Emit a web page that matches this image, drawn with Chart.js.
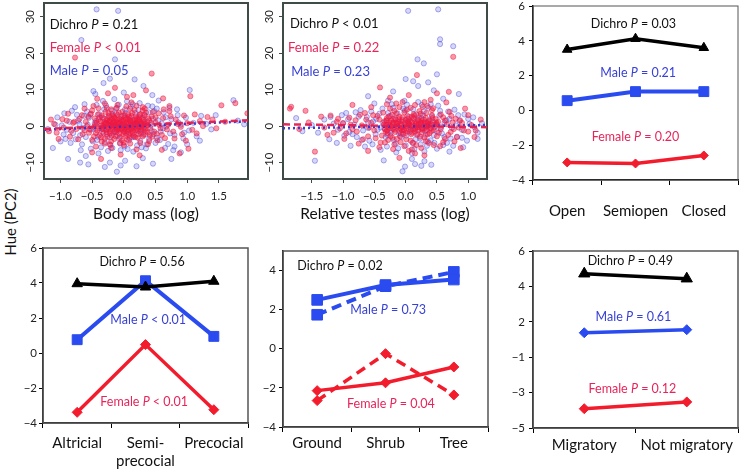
<!DOCTYPE html>
<html><head><meta charset="utf-8">
<script src="https://cdn.jsdelivr.net/npm/chart.js@4.4.1/dist/chart.umd.min.js"></script>
<style>
html,body{margin:0;padding:0;background:#fff;width:740px;height:472px;overflow:hidden;position:relative}
canvas{position:absolute}
#ylab{position:absolute;left:10px;top:222px;transform:translate(-50%,-50%) rotate(-90deg);font:15px Lato;white-space:nowrap;color:#111}
</style></head><body>
<div id="ylab">Hue (PC2)</div>
<canvas id="c1"></canvas><canvas id="c2"></canvas><canvas id="c3"></canvas>
<canvas id="c4"></canvas><canvas id="c5"></canvas><canvas id="c6"></canvas>
<script>
// ---------- scatter data ----------
const bodyMassTicks = [-1.0,-0.5,0.0,0.5,1.0,1.5];
const testesTicks = [-1.5,-1.0,-0.5,0.0,0.5,1.0];
const hueTicks = [-10,0,10,20,30];

const bodyFemale = [[-0.45,0.5],[-0.42,-1.2],[-0.4,1.8],[-0.38,-2.5],[-0.36,0.2],[-0.35,2.9],[-0.33,-0.8],[-0.31,1.1],[-0.3,-3.4],[-0.29,0.6],[-0.27,-1.7],[-0.26,2.2],[-0.25,-0.3],[-0.24,3.6],[-0.23,1.4],[-0.22,-2.1],[-0.21,0.1],[-0.2,-4.2],[-0.19,1.9],[-0.18,-0.9],[-0.17,0.8],[-0.16,2.7],[-0.15,-1.5],[-0.14,0.3],[-0.13,-2.8],[-0.12,1.2],[-0.11,-0.4],[-0.1,3.1],[-0.09,0.9],[-0.08,-1.1],[-0.07,2.0],[-0.06,-3.0],[-0.05,0.0],[-0.04,1.6],[-0.03,-0.6],[-0.02,4.0],[-0.01,-2.2],[0.0,0.7],[0.01,-1.4],[0.02,2.4],[0.03,-0.2],[0.04,1.0],[0.05,-3.6],[0.06,0.4],[0.07,3.3],[0.08,-0.9],[0.09,1.7],[0.1,-1.9],[0.11,0.2],[0.12,2.8],[0.13,-0.5],[0.14,1.3],[0.15,-2.6],[0.16,0.6],[0.17,4.4],[0.18,-1.2],[0.19,0.9],[0.2,2.1],[0.21,-0.7],[0.22,-3.2],[0.23,1.5],[0.24,0.0],[0.25,3.0],[0.26,-1.6],[0.27,0.8],[0.28,-0.3],[0.3,2.3],[0.31,-2.4],[0.32,1.1],[0.34,-0.8],[0.35,3.7],[0.36,0.4],[0.38,-1.8],[0.4,1.6],[0.42,-0.5],[0.44,2.6],[0.45,-2.9],
[-0.28,0.9],[-0.22,1.6],[-0.18,-0.2],[-0.12,0.5],[-0.08,-0.6],[-0.03,1.3],[0.02,-0.9],[0.06,1.9],[0.1,0.3],[0.14,-1.3],[0.19,0.5],[0.24,1.8],[0.29,0.1],[-0.34,-0.5],[-0.15,2.4],[0.08,-2.4],[0.33,0.7],
[-0.47,-0.2],[-0.46,2.1],[-0.44,-1.9],[-0.43,0.9],[-0.41,3.2],[-0.39,-0.6],[-0.37,1.4],[-0.36,-3.1],[-0.34,2.4],[-0.33,0.0],[-0.32,-1.9],[-0.3,0.8],[-0.29,3.9],[-0.28,-1.0],[-0.27,1.6],[-0.26,-2.9],[-0.25,0.5],[-0.24,-0.7],[-0.23,2.8],[-0.22,-1.5],[-0.21,1.1],[-0.2,0.2],[-0.19,-2.6],[-0.18,3.3],[-0.17,-0.1],[-0.16,1.3],[-0.15,-3.5],[-0.14,2.1],[-0.13,0.6],[-0.12,-1.7],[-0.11,1.8],[-0.1,-0.9],[-0.09,0.1],[-0.08,3.7],[-0.07,-2.0],[-0.06,1.0],[-0.05,-0.7],[-0.04,2.6],[-0.03,-3.9],[-0.02,0.4],[-0.01,1.5],[0.0,-1.6],[0.01,3.0],[0.02,0.1],[0.03,-2.7],[0.04,1.9],[0.05,-0.3],[0.06,-1.2],[0.07,0.8],[0.08,2.5],[0.09,-3.3],[0.1,1.4],[0.11,-0.8],[0.12,0.0],[0.13,3.6],[0.14,-2.1],[0.15,0.9],[0.16,-0.4],[0.17,1.7],[0.18,-3.0],[0.19,2.7],[0.2,-1.0],[0.21,0.6],[0.22,1.9],[0.23,-2.2],[0.24,-0.2],[0.25,1.2],[0.26,3.3],[0.27,-1.1],[0.28,0.4],[0.3,-2.8],[0.31,1.6],[0.32,-0.6],[0.33,2.9],[0.35,-1.4],[0.37,0.2],[0.39,2.1],[0.41,-2.5],[0.43,0.9],[-0.2,4.6],[0.0,-4.5],[0.1,4.8],[-0.3,-4.8],[0.3,4.3],
[-0.56,2.6],[-0.54,-0.9],[-0.5,4.3],[-0.47,-2.8],[-0.4,4.9],[-0.35,-4.2],[-0.27,5.0],[-0.22,-5.0],[-0.12,4.9],[-0.06,-4.6],[0.04,5.4],[0.1,-4.8],[0.2,5.6],[0.26,-4.6],[0.33,4.8],[0.4,-4.1],[0.46,3.9],[0.48,-1.5],[0.5,2.4],[0.53,-3.9],[0.56,0.3],[0.6,-2.4],[0.63,4.6],[0.68,-0.9],[0.74,2.7],[0.8,-3.4],[0.85,0.6],[0.92,-2.2],[-0.62,-1.2],[-0.66,3.0],[-0.72,-3.6],[-0.78,1.2],[-0.83,-1.3],[-0.88,3.4],[-0.97,1.9],[-1.06,-1.8],[-1.15,1.8],[0.98,-4.0],[1.15,-2.0],[1.4,1.8],
[-0.6,1.2],[-0.55,-1.8],[-0.52,3.4],[-0.5,-3.8],[-0.58,0.0],[-0.65,-2.2],[-0.7,2.0],[-0.75,-0.8],[-0.8,0.9],[-0.85,-2.9],[-0.9,1.5],[-0.95,-0.4],[-1.03,-3.5],[-1.1,0.6],[-1.18,-1.4],[-0.62,4.8],[-0.48,5.5],[-0.44,-5.6],[-0.3,6.2],[-0.2,-6.0],[-0.1,5.8],[0.0,-5.2],[0.12,6.5],[0.2,-6.4],[0.3,5.2],[0.38,-5.0],[0.5,1.0],[0.52,-2.1],[0.55,3.5],[0.58,-0.6],[0.62,2.2],[0.65,-3.3],[0.7,0.4],[0.72,4.1],[0.78,-1.5],[0.82,1.8],[0.88,-7.5],[0.9,-0.2],[0.95,2.9],[1.0,0.8],[1.02,-6.2],[1.05,8.2],[1.08,-1.0],[1.12,3.2],[1.2,1.4],[1.25,0.0],[1.32,2.5],[1.46,-0.6],[1.54,5.7],[1.76,6.3],[1.95,3.5],[1.6,1.2],
[-0.77,18.8],[0.44,14.4],[0.15,8.5],[-0.14,10.5],[-0.36,-9.0],[-0.5,-7.2],[0.25,-8.0],[0.6,-6.5],[-0.25,9.0],[0.05,8.0],[0.35,9.8],[-0.42,7.5],[0.62,7.6],[-0.05,-7.8],[0.72,5.5]];

const bodyMale = [[-0.48,-0.7],[-0.44,1.4],[-0.41,-2.9],[-0.39,3.3],[-0.37,0.0],[-0.34,-1.6],[-0.32,2.1],[-0.3,-4.4],[-0.28,0.8],[-0.26,-0.9],[-0.24,2.6],[-0.22,-3.1],[-0.2,0.4],[-0.19,4.2],[-0.17,-1.8],[-0.15,1.0],[-0.13,-0.2],[-0.12,3.4],[-0.1,-2.6],[-0.08,0.6],[-0.06,-4.8],[-0.05,1.8],[-0.03,-1.0],[-0.01,2.9],[0.0,-0.4],[0.02,4.6],[0.04,-2.0],[0.06,0.9],[0.08,-3.9],[0.1,2.2],[0.12,-0.6],[0.14,1.5],[0.16,-2.9],[0.18,3.6],[0.2,0.1],[0.22,-1.4],[0.24,2.4],[0.26,-4.1],[0.28,0.7],[0.3,-0.9],[0.32,3.1],[0.34,-2.3],[0.37,1.2],[0.4,-3.5],[0.43,0.3],[0.46,2.0],
[-0.46,0.8],[-0.42,-3.8],[-0.38,2.4],[-0.35,-0.8],[-0.31,4.6],[-0.27,-2.2],[-0.23,1.2],[-0.21,-5.2],[-0.18,2.9],[-0.14,-1.3],[-0.11,5.0],[-0.07,-3.4],[-0.04,0.3],[0.01,-5.6],[0.03,3.6],[0.07,-1.6],[0.11,5.3],[0.13,-3.1],[0.17,0.6],[0.21,-5.3],[0.23,4.4],[0.27,-2.0],[0.31,1.8],[0.36,-5.0],[0.39,3.8],[0.44,-1.3],[0.48,4.1],[0.52,-3.2],[0.6,0.7],[0.65,-6.0],[-0.52,-1.0],[-0.58,4.0],[-0.64,-0.5],[-0.68,-6.6],[-0.72,1.5],[-0.76,-3.6],[-0.82,4.2],[-0.9,-1.0],[-0.94,3.5],[-1.0,-4.2],[0.72,5.0],[0.8,-5.6],[0.86,1.0],[0.95,-1.8],
[-0.57,0.4],[-0.53,3.2],[-0.49,-4.2],[-0.43,5.8],[-0.36,-5.8],[-0.28,5.6],[-0.18,-6.0],[-0.08,5.9],[0.06,-6.3],[0.14,6.0],[0.28,-5.8],[0.38,5.6],[0.47,-2.2],[0.52,4.8],[0.57,-3.8],[0.62,-0.6],[0.66,2.4],[0.73,-2.0],[0.78,-6.6],[0.84,4.6],[-0.63,2.8],[-0.69,-2.5],[-0.77,5.2],[-0.84,-4.6],[-0.95,-2.3],[-1.08,0.4],[1.0,-5.0],[1.2,-4.0],
[-0.55,2.3],[-0.6,-3.0],[-0.66,-5.0],[-0.7,0.6],[-0.74,3.1],[-0.8,-1.9],[-0.86,1.2],[-0.88,-9.0],[-0.92,-3.5],[-0.98,0.2],[-1.05,2.4],[-1.12,-6.0],[-1.2,-0.8],[-0.62,6.0],[-0.52,-6.2],[-0.45,8.8],[-0.4,-7.5],[-0.33,6.9],[-0.25,-6.8],[-0.15,7.4],[-0.05,-6.6],[0.05,6.8],[0.15,-7.0],[0.25,6.3],[0.35,-6.1],[0.45,5.4],[0.5,-4.6],[0.54,1.6],[0.58,-1.5],[0.63,3.8],[0.67,-0.1],[0.7,-4.9],[0.75,1.9],[0.75,-9.0],[0.8,-2.4],[0.85,3.0],[0.9,0.4],[0.94,-3.4],[0.98,2.3],[1.04,9.9],[1.03,-1.2],[1.1,0.9],[1.15,-2.8],[1.22,2.8],[1.3,0.6],[1.38,-0.9],[1.45,3.0],[1.73,7.1],[1.8,1.5],[1.9,0.5],
[-0.43,32.0],[-0.09,31.6],[-0.67,23.6],[-0.14,18.3],[-0.22,13.0],[0.17,12.8],[0.31,11.0],[-0.11,-12.5],[-0.22,-10.0],[0.2,-11.0],[-0.56,-10.5],[-0.69,-10.0],[0.46,-10.3],[-0.3,-11.2],[0.02,-9.5],[-0.48,9.6],[0.0,9.2],[-0.32,11.8],[0.55,7.0],[-0.6,-8.2],[0.3,-8.8],[0.9,-7.2],[-0.05,-10.8],[0.45,8.5]];

const testesFemale = [[-0.35,0.4],[-0.32,-1.5],[-0.3,2.2],[-0.28,-0.3],[-0.26,1.0],[-0.24,-2.7],[-0.22,3.1],[-0.2,0.6],[-0.18,-1.0],[-0.16,1.8],[-0.14,-3.5],[-0.12,0.0],[-0.1,2.6],[-0.08,-0.7],[-0.06,1.3],[-0.04,-2.2],[-0.02,3.8],[0.0,0.3],[0.02,-1.3],[0.04,2.0],[0.06,-0.2],[0.08,-4.0],[0.1,1.1],[0.12,-0.9],[0.14,2.9],[0.16,0.5],[0.18,-2.4],[0.2,1.6],[0.22,-0.4],[0.24,3.4],[0.26,-1.7],[0.28,0.8],[0.3,-3.1],[0.32,2.3],[0.34,-0.1],[0.36,1.2],[0.38,-2.0],[0.4,0.6],[0.42,3.0],[0.45,-1.1],[0.48,1.9],[0.5,-2.8],
[-0.25,0.2],[-0.15,0.9],[-0.05,-0.4],[0.05,0.7],[0.15,-0.6],[0.25,1.4],[0.35,0.1],[-0.2,-0.8],[0.0,1.7],[0.1,-1.8],[0.2,0.2],[0.3,1.0],[-0.1,-1.4],[0.12,2.2],[-0.3,1.6],[0.45,0.4],
[-0.34,1.3],[-0.33,-0.9],[-0.31,0.4],[-0.29,-2.0],[-0.27,2.6],[-0.25,-0.6],[-0.23,1.5],[-0.21,-3.2],[-0.19,0.9],[-0.17,-1.6],[-0.15,3.5],[-0.13,-0.1],[-0.11,1.9],[-0.09,-2.8],[-0.07,0.5],[-0.05,2.4],[-0.03,-1.1],[-0.01,1.0],[0.01,-3.6],[0.03,2.8],[0.05,-0.8],[0.07,1.4],[0.09,-2.2],[0.11,0.2],[0.13,3.3],[0.15,-1.5],[0.17,0.8],[0.19,-0.3],[0.21,2.5],[0.23,-2.9],[0.25,0.6],[0.27,-1.0],[0.29,1.8],[0.31,-0.5],[0.33,3.6],[0.35,-2.3],[0.37,0.3],[0.39,1.5],[0.41,-1.3],[0.43,2.2],[0.46,-0.2],[0.49,1.0],[-0.28,-3.8],[-0.18,4.2],[-0.08,-4.4],[0.02,4.5],[0.12,-4.6],[0.22,4.1],[0.32,-4.1],[0.42,4.4],[-0.24,0.0],[-0.14,0.7],[-0.04,-0.2],[0.06,0.4],[0.16,1.2],[0.26,-0.7],[0.36,0.8],[-0.2,2.0],[0.0,-1.9],[0.2,-1.2],[0.1,2.6],[-0.1,1.2],[0.3,0.2],[0.4,-0.6],[-0.3,-1.2],[0.14,0.0],[0.04,1.1],[-0.06,-1.2],[0.24,1.0],[0.34,-1.0],
[-0.42,1.8],[-0.38,-2.6],[-0.36,3.7],[-0.33,-4.5],[-0.25,4.8],[-0.18,-5.0],[-0.1,5.2],[-0.02,-5.5],[0.08,5.0],[0.17,-5.2],[0.27,5.3],[0.37,-4.6],[0.44,4.9],[0.5,0.5],[0.53,-1.8],[0.56,3.2],[0.6,-4.4],[0.63,1.5],[0.68,-2.4],[0.73,2.8],[0.77,-0.8],[0.82,-3.0],[0.87,1.6],[0.93,-1.2],[-0.48,-3.3],[-0.52,3.0],[-0.58,-0.4],[-0.63,1.8],[-0.68,-3.6],[-0.73,3.1],[-0.78,-1.5],[-0.88,0.4],[-0.98,-3.5],[-1.08,2.0],[-1.15,-1.8],[1.0,3.0],[1.12,-1.2],[0.3,6.6],[-0.15,6.2],[0.1,-6.4],
[-0.4,-4.5],[-0.45,2.8],[-0.5,-1.2],[-0.55,0.9],[-0.6,-2.8],[-0.65,3.6],[-0.7,0.2],[-0.75,-4.8],[-0.8,1.6],[-0.85,-0.9],[-0.9,2.3],[-0.95,-2.0],[-1.0,0.8],[-1.05,-0.6],[-1.1,1.2],[-1.2,2.9],[-1.3,-0.4],[-1.35,2.6],[-1.45,-7.0],[-1.6,4.2],[-1.85,4.8],[-1.7,-0.8],[-1.55,1.0],[-1.25,-2.4],[-0.55,5.2],[-0.42,-5.8],[-0.3,6.0],[-0.2,-6.3],[-0.05,6.6],[0.05,-6.8],[0.15,5.8],[0.25,-6.0],[0.35,5.5],[0.45,-5.2],[0.52,1.2],[0.56,-0.8],[0.6,2.4],[0.63,-3.5],[0.66,0.5],[0.7,3.9],[0.72,-1.6],[0.75,1.0],[0.78,-4.2],[0.8,2.0],[0.85,-0.4],[0.88,-6.0],[0.9,0.9],[0.95,4.8],[1.0,-1.5],[1.05,0.3],[1.1,-3.0],[1.2,1.8],[0.65,6.5],[0.55,-5.5],
[0.76,19.0],[0.18,14.0],[0.69,9.4],[-0.41,10.6],[-1.83,5.3],[0.5,9.0],[-0.1,-8.7],[0.3,-8.0],[-0.6,-6.8],[0.05,8.5],[-0.25,7.8],[0.4,7.2],[-0.85,5.8],[0.15,-7.5]];

const testesMale = [[-0.34,-0.6],[-0.31,1.5],[-0.29,-2.4],[-0.27,0.3],[-0.25,2.8],[-0.23,-1.1],[-0.21,0.9],[-0.19,-3.8],[-0.17,2.0],[-0.15,-0.4],[-0.13,3.5],[-0.11,-1.9],[-0.09,0.5],[-0.07,-3.0],[-0.05,1.7],[-0.03,-0.9],[-0.01,4.3],[0.01,-2.6],[0.03,0.8],[0.05,2.5],[0.07,-1.5],[0.09,0.0],[0.11,-4.6],[0.13,1.9],[0.15,-0.8],[0.17,3.2],[0.19,-2.1],[0.21,0.6],[0.23,-3.4],[0.25,2.1],[0.27,-0.5],[0.29,4.0],[0.31,-1.3],[0.33,0.9],[0.35,-4.2],[0.37,1.6],[0.39,-0.6],[0.42,2.7],[0.45,-2.5],[0.48,0.4],
[-0.36,0.9],[-0.32,-3.0],[-0.28,3.6],[-0.24,-1.8],[-0.2,5.0],[-0.16,-4.8],[-0.12,1.1],[-0.08,-2.0],[-0.04,4.8],[0.0,-5.3],[0.04,1.3],[0.08,-1.0],[0.12,4.6],[0.16,-3.6],[0.2,1.8],[0.24,-5.0],[0.28,2.9],[0.32,-2.4],[0.36,5.0],[0.4,-3.9],[0.44,1.2],[0.5,-1.4],[0.55,4.2],[0.6,-5.2],[0.65,1.6],[-0.45,-1.0],[-0.55,4.0],[-0.6,-0.5],[-0.65,-5.6],[-0.75,2.6],[-0.85,-2.2],[-0.95,3.6],[-1.1,-4.6],[0.72,-3.4],[0.8,0.2],[0.92,-5.8],[1.0,2.0],[1.1,-0.3],
[-0.4,-0.4],[-0.37,4.8],[-0.3,-5.6],[-0.22,6.0],[-0.12,-6.1],[0.02,5.9],[0.14,-6.2],[0.26,5.8],[0.34,-5.4],[0.46,-4.6],[0.52,5.6],[0.57,-0.2],[0.62,-3.0],[0.68,4.0],[0.76,-5.4],[0.84,3.0],[0.9,-3.2],[-0.47,2.0],[-0.53,-5.0],[-0.6,1.0],[-0.7,-3.8],[-0.8,3.8],[-0.9,-1.6],[-1.0,0.8],[-1.2,2.5],[1.15,-3.5],
[-0.42,3.4],[-0.48,-2.2],[-0.52,1.3],[-0.58,-4.0],[-0.62,2.5],[-0.68,-1.2],[-0.72,4.4],[-0.78,-3.0],[-0.82,0.4],[-0.88,-5.4],[-0.92,1.9],[-0.98,-2.6],[-1.02,3.0],[-1.08,-1.0],[-1.15,0.7],[-1.22,-3.6],[-1.3,1.8],[-1.4,-1.8],[-1.45,-9.5],[-1.5,0.3],[-1.65,-1.4],[-1.75,2.2],[-0.5,6.2],[-0.4,-6.5],[-0.28,7.0],[-0.15,-7.2],[-0.02,6.9],[0.1,-7.4],[0.2,6.6],[0.3,-6.9],[0.4,6.0],[0.5,-6.2],[0.54,2.9],[0.58,-2.0],[0.62,0.9],[0.66,-4.6],[0.7,2.0],[0.74,-0.5],[0.78,4.5],[0.82,-2.9],[0.86,1.4],[0.9,-1.0],[0.94,3.2],[0.98,-4.0],[1.02,0.6],[1.08,2.4],[1.15,-1.8],[1.22,0.8],[0.6,7.5],[0.7,-7.0],
[0.04,31.6],[0.52,32.0],[0.55,23.8],[0.55,22.5],[0.76,21.9],[0.19,18.3],[0.29,17.2],[0.5,14.2],[0.0,12.9],[0.12,12.3],[0.36,12.0],[0.2,11.0],[-0.01,-11.1],[-0.05,-12.4],[0.15,-10.4],[0.25,-10.9],[0.41,-10.6],[-0.35,-9.4],[0.1,-9.0],[-0.2,9.5],[0.45,9.8],[-0.6,8.2],[0.85,8.8],[0.3,-9.6]];

// fitted regression lines (end points)
const bodyFemaleFit = [[-1.26,-0.8],[1.96,1.6]];
const bodyMaleFit = [[-1.26,-1.0],[1.96,1.3]];
const testesFemaleFit = [[-1.96,0.5],[1.30,-0.3]];
const testesMaleFit = [[-1.96,-0.6],[1.30,0.3]];

// ---------- category panels ----------
const openness = ['Open','Semiopen','Closed'];
const opennessDichro = [3.5, 4.12, 3.6];
const opennessMale = [0.56, 1.08, 1.08];
const opennessFemale = [-2.99, -3.05, -2.59];

const development = ['Altricial', ['Semi-','precocial'], 'Precocial'];
const developmentDichro = [3.96, 3.77, 4.1];
const developmentMale = [0.76, 4.13, 0.95];
const developmentFemale = [-3.39, 0.48, -3.24];

const foraging = ['Ground','Shrub','Tree'];
const foragingMaleSolid = [2.5, 3.26, 3.54];
const foragingMaleDashed = [1.74, 3.2, 3.93];
const foragingFemaleSolid = [-2.14, -1.74, -0.93];
const foragingFemaleDashed = [-2.65, -0.25, -2.36];

const migration = ['Migratory','Not migratory'];
const migrationDichro = [4.59, 4.28];
const migrationMale = [0.92, 1.11];
const migrationFemale = [-3.8, -3.38];

const evenTicks = [-4,-2,0,2,4,6];
const foragingTicks = [-4,-2,0,2,4];
const migrationTickValues = [-5,-2.8,-0.6,1.6,3.8,6];
const migrationTickLabels = ['−5','−3','−1','2','4','6'];

// ---------- styling ----------
Chart.defaults.font.family = 'Lato';
Chart.defaults.animation = false;
const RED = '#f21c2c', BLUE = '#2a4bef', BLACK = '#000';
const RED_T = '#e8255a', BLUE_T = '#3841d6';
const FRAME = '#3f4b49';
const minus = v => (v < 0 ? '−' : '') + Math.abs(v);
const fmt1 = v => (v < 0 ? '−' : '') + Math.abs(v).toFixed(1);
const pts = arr => arr.map(p => ({x: p[0], y: p[1]}));

const framePlugin = {
  id: 'frame',
  beforeDatasetsDraw(chart, args, o) {
    const a = chart.chartArea, ctx = chart.ctx;
    ctx.save(); ctx.strokeStyle = o.color; ctx.lineWidth = o.width;
    ctx.strokeRect(a.left, a.top, a.right - a.left, a.bottom - a.top);
    ctx.restore();
  }
};
const notePlugin = {
  id: 'notes',
  afterDatasetsDraw(chart, args, o) {
    const ctx = chart.ctx, xs = chart.scales.x, ys = chart.scales.y;
    (o.items || []).forEach(it => {
      const px = xs.getPixelForValue(it.x), py = ys.getPixelForValue(it.y);
      ctx.save(); ctx.fillStyle = it.color; ctx.textBaseline = 'middle'; ctx.textAlign = 'left';
      const fN = o.size + 'px Lato', fI = 'italic ' + o.size + 'px Lato';
      let total = 0;
      it.text.forEach(s => { ctx.font = s[1] ? fI : fN; total += ctx.measureText(s[0]).width; });
      let cx = it.align === 'left' ? px : px - total / 2;
      it.text.forEach(s => { ctx.font = s[1] ? fI : fN; ctx.fillText(s[0], cx, py); cx += ctx.measureText(s[0]).width; });
      ctx.restore();
    });
  }
};
const note = (pre, post, color, x, y, align) => ({text: [[pre, false], ['P', true], [post, false]], color, x, y, align});

function place(id, box, area) {
  const c = document.getElementById(id);
  c.width = box.w; c.height = box.h;
  c.style.left = box.left + 'px'; c.style.top = box.top + 'px';
  c.style.width = box.w + 'px'; c.style.height = box.h + 'px';
  return {
    canvas: c,
    padding: {left: 0, top: area.t - box.top, right: box.left + box.w - area.r, bottom: 0},
    yW: area.l - box.left,
    xH: box.top + box.h - area.b
  };
}

function scatterPanel(id, box, area, cfg) {
  const g = place(id, box, area);
  new Chart(g.canvas, {
    type: 'scatter',
    data: { datasets: [
      {data: pts(cfg.femaleFit), showLine: true, borderColor: 'rgba(225,30,80,0.95)', borderWidth: 2.5, borderDash: [7,4], pointRadius: 0},
      {data: pts(cfg.maleFit), showLine: true, borderColor: 'rgba(50,50,200,0.95)', borderWidth: 2.5, borderDash: [2,3], pointRadius: 0},
      {data: pts(cfg.female), pointRadius: 2.6, borderWidth: 0.8, backgroundColor: 'rgba(240,25,65,0.45)', borderColor: 'rgba(240,25,65,0.6)'},
      {data: pts(cfg.male), pointRadius: 2.6, borderWidth: 0.8, backgroundColor: 'rgba(70,70,225,0.22)', borderColor: 'rgba(60,60,215,0.5)'}
    ]},
    options: {
      responsive: false, events: [],
      layout: {padding: g.padding},
      plugins: { legend: {display: false}, tooltip: {enabled: false},
        frame: {color: FRAME, width: 2},
        notes: {size: 13, items: cfg.notes} },
      scales: {
        x: { type: 'linear', min: cfg.xMin, max: cfg.xMax,
          afterBuildTicks: s => { s.ticks = cfg.xTicks.map(v => ({value: v})); },
          afterFit: s => { s.height = g.xH; },
          ticks: {callback: v => fmt1(v), font: {size: 11.5}, color: '#222', padding: 6, maxRotation: 0},
          grid: {drawOnChartArea: false, tickLength: 4, color: FRAME},
          border: {color: FRAME, width: 2},
          title: {display: true, text: cfg.xTitle, font: {size: 15.5}, color: '#111', padding: {top: 0, bottom: 7}} },
        y: { min: -14.5, max: 33.75,
          afterBuildTicks: s => { s.ticks = hueTicks.map(v => ({value: v})); },
          afterFit: s => { s.width = g.yW; },
          ticks: {callback: v => minus(v), font: {size: 11.5}, color: '#222', padding: 0, minRotation: 90, maxRotation: 90, crossAlign: 'center'},
          grid: {drawOnChartArea: false, tickLength: 4, color: FRAME},
          border: {color: FRAME, width: 2} }
      }
    },
    plugins: [framePlugin, notePlugin]
  });
}

function linePanel(id, box, area, cfg) {
  const g = place(id, box, area);
  new Chart(g.canvas, {
    type: 'line',
    data: { labels: cfg.labels, datasets: cfg.datasets },
    options: {
      responsive: false, events: [],
      layout: {padding: g.padding},
      plugins: { legend: {display: false}, tooltip: {enabled: false},
        frame: {color: '#555', width: cfg.frameW},
        notes: {size: 12.5, items: cfg.notes} },
      scales: {
        x: { offset: true,
          afterFit: s => { s.height = g.xH; },
          ticks: {font: {size: 15, lineHeight: 1.15}, color: '#111', padding: cfg.xPad, maxRotation: 0, autoSkip: false},
          grid: {offset: true, drawOnChartArea: false, tickLength: 5, color: '#000'},
          border: {color: '#000', width: 1.5} },
        y: { min: cfg.yMin, max: cfg.yMax,
          afterBuildTicks: s => { s.ticks = cfg.yTicks.map(v => ({value: v})); },
          afterFit: s => { s.width = g.yW; },
          ticks: {callback: cfg.yLabel, font: {size: 11.5}, color: '#222', padding: cfg.yPad},
          grid: {drawOnChartArea: false, tickLength: 4, color: '#000'},
          border: {color: '#000', width: 1.5} }
      }
    },
    plugins: [framePlugin, notePlugin]
  });
}
const series = (data, color, style, radius, width, dash) => ({
  data, borderColor: color, backgroundColor: color, pointBackgroundColor: color, pointBorderColor: color,
  pointStyle: style, pointRadius: radius, pointBorderWidth: 1, borderWidth: width, borderDash: dash || [], tension: 0
});

// ---------- panels ----------
scatterPanel('c1', {left: 0, top: -9, w: 260, h: 239}, {l: 44, t: 3, r: 248, b: 179}, {
  female: bodyFemale, male: bodyMale, femaleFit: bodyFemaleFit, maleFit: bodyMaleFit,
  xMin: -1.26, xMax: 1.96, xTicks: bodyMassTicks, xTitle: 'Body mass (log)',
  notes: [note('Dichro ', ' = 0.21', '#111', -1.17, 27.9, 'left'),
          note('Female ', ' < 0.01', RED_T, -1.17, 21.45, 'left'),
          note('Male ', ' = 0.05', BLUE_T, -1.17, 15.07, 'left')]
});
scatterPanel('c2', {left: 252, top: -9, w: 247, h: 239}, {l: 283, t: 3, r: 487, b: 179}, {
  female: testesFemale, male: testesMale, femaleFit: testesFemaleFit, maleFit: testesMaleFit,
  xMin: -1.96, xMax: 1.30, xTicks: testesTicks, xTitle: 'Relative testes mass (log)',
  notes: [note('Dichro ', ' < 0.01', '#111', -1.85, 28.1, 'left'),
          note('Female ', ' = 0.22', RED_T, -1.88, 21.45, 'left'),
          note('Male ', ' = 0.23', BLUE_T, -1.83, 14.9, 'left')]
});
linePanel('c3', {left: 490, top: -6, w: 262, h: 236}, {l: 533, t: 6, r: 738, b: 180}, {
  labels: openness, yMin: -4, yMax: 6, yTicks: evenTicks, yLabel: v => minus(v), yPad: 4, xPad: 18, frameW: 1,
  datasets: [series(opennessDichro, BLACK, 'triangle', 5.5, 3.5),
             series(opennessMale, BLUE, 'rect', 7, 4),
             series(opennessFemale, RED, 'rectRot', 4.5, 3.5)],
  notes: [note('Dichro ', ' = 0.03', '#111', 0.97, 4.97),
          note('Male ', ' = 0.21', BLUE_T, 1.04, 2.17),
          note('Female ', ' = 0.20', RED_T, 1.0, -1.51)]
});
linePanel('c4', {left: 0, top: 236, w: 260, h: 236}, {l: 43, t: 248, r: 248, b: 423}, {
  labels: development, yMin: -4, yMax: 6, yTicks: evenTicks, yLabel: v => minus(v), yPad: 2, xPad: 7, frameW: 1.5,
  datasets: [series(developmentDichro, BLACK, 'triangle', 6, 3.5),
             series(developmentMale, BLUE, 'rect', 7, 4),
             series(developmentFemale, RED, 'rectRot', 5, 3.5)],
  notes: [note('Dichro ', ' = 0.56', '#111', 0.95, 5.2),
          note('Male ', ' < 0.01', BLUE_T, 1.04, 1.86),
          note('Female ', ' < 0.01', RED_T, 0.98, -2.77)]
});
linePanel('c5', {left: 245, top: 238, w: 255, h: 234}, {l: 283, t: 251, r: 488, b: 427}, {
  labels: foraging, yMin: -4, yMax: 5, yTicks: foragingTicks, yLabel: v => minus(v), yPad: 3, xPad: 2.5, frameW: 1.5,
  datasets: [series(foragingMaleSolid, BLUE, 'rect', 7.5, 4),
             series(foragingMaleDashed, BLUE, 'rect', 7.5, 4, [10, 6]),
             series(foragingFemaleSolid, RED, 'rectRot', 5, 3.5),
             series(foragingFemaleDashed, RED, 'rectRot', 5, 3.5, [10, 6])],
  notes: [note('Dichro ', ' = 0.02', '#111', -0.29, 4.22, 'left'),
          note('Male ', ' = 0.73', BLUE_T, 1.04, 1.99),
          note('Female ', ' = 0.04', RED_T, 1.08, -2.82)]
});
linePanel('c6', {left: 490, top: 238, w: 262, h: 234}, {l: 533, t: 251, r: 738, b: 428}, {
  labels: migration, yMin: -5, yMax: 6, yTicks: migrationTickValues,
  yLabel: (v, i) => migrationTickLabels[i], yPad: 4, xPad: 4, frameW: 1.5,
  datasets: [series(migrationDichro, BLACK, 'triangle', 6.5, 3.5),
             series(migrationMale, BLUE, 'rectRot', 5, 3.5),
             series(migrationFemale, RED, 'rectRot', 5, 3.5)],
  notes: [note('Dichro ', ' = 0.49', '#111', 0.45, 5.38),
          note('Male ', ' = 0.61', BLUE_T, 0.48, 1.9),
          note('Female ', ' = 0.12', RED_T, 0.47, -2.59)]
});
</script>
</body></html>
